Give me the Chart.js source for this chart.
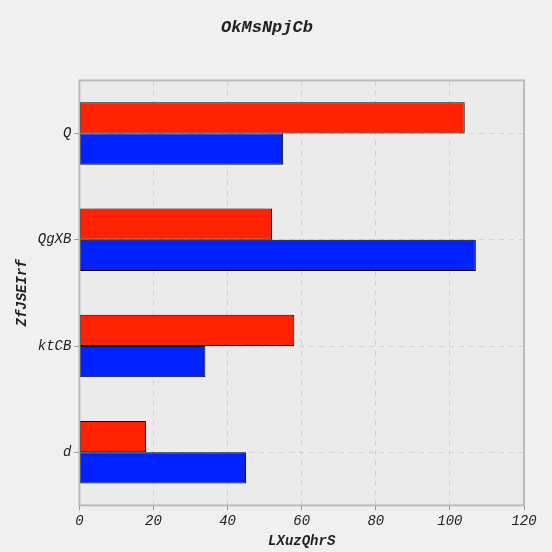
<!DOCTYPE html>
<html>
<head>
<script src="https://cdn.jsdelivr.net/npm/chart.js@4"></script>
<style>
  html, body { margin: 0; padding: 0; background: #f0f0f0; }
  #wrap { width: 552px; height: 552px; }
</style>
</head>
<body>
<div id="wrap"><canvas id="chart"></canvas></div>
<script>
const categories = ['Q', 'QgXB', 'ktCB', 'd'];
const redValues = [104, 52, 58, 18];
const blueValues = [55, 107, 34, 45];
const xTicks = [0, 20, 40, 60, 80, 100, 120];

const fontFamily = "'Liberation Mono', 'DejaVu Sans Mono', monospace";

// plot background + frame
const plotBg = {
  id: 'plotBg',
  beforeDraw(chart) {
    const { ctx, chartArea: a } = chart;
    ctx.save();
    ctx.fillStyle = '#ebebeb';
    ctx.fillRect(a.left, a.top, a.width, a.height);
    ctx.restore();
  },
  afterDraw(chart) {
    const { ctx, chartArea: a } = chart;
    ctx.save();
    ctx.strokeStyle = '#bbbbbb';
    ctx.lineWidth = 2;
    ctx.strokeRect(a.left, a.top, a.width, a.height);
    ctx.restore();
  }
};

new Chart(document.getElementById('chart'), {
  type: 'bar',
  data: {
    labels: categories,
    datasets: [
      { data: redValues, backgroundColor: '#ff2200', borderColor: '#000', borderWidth: 1, borderSkipped: false },
      { data: blueValues, backgroundColor: '#0022ff', borderColor: '#000', borderWidth: 1, borderSkipped: false },
    ],
  },
  options: {
    indexAxis: 'y',
    animation: false,
    responsive: true,
    maintainAspectRatio: false,
    categoryPercentage: 0.59,
    barPercentage: 1,
    layout: { padding: { top: 4, right: 28, bottom: 0, left: 10 } },
    scales: {
      x: {
        min: 0,
        max: 120,
        afterBuildTicks: (axis) => { axis.ticks = xTicks.map(v => ({ value: v })); },
        border: { display: false },
        grid: { color: '#d0d0d0', lineWidth: 1, tickLength: 5, tickColor: '#999' },
        ticks: { color: '#222', padding: 2, font: { family: fontFamily, style: 'italic', size: 14 } },
        title: { display: true, text: 'LXuzQhrS', color: '#222', padding: 2, font: { family: fontFamily, style: 'italic', weight: 'bold', size: 14 } },
      },
      y: {
        offset: true,
        border: { display: false },
        grid: { color: '#d0d0d0', tickLength: 5, tickColor: '#999', offset: false },
        ticks: { color: '#222', font: { family: fontFamily, style: 'italic', size: 14 } },
        title: { display: true, text: 'ZfJSEIrf', color: '#222', font: { family: fontFamily, style: 'italic', weight: 'bold', size: 14 } },
      },
    },
    plugins: {
      legend: { display: false },
      tooltip: { enabled: false },
      title: {
        display: true,
        text: 'OkMsNpjCb',
        color: '#222',
        padding: { top: 14, bottom: 42 },
        font: { family: fontFamily, style: 'italic', weight: 'bold', size: 17 },
      },
    },
  },
  plugins: [plotBg],
});

// dashed grid lines
const c = Chart.getChart('chart');
c.options.scales.x.border.dash = [5, 5];
c.options.scales.y.border.dash = [5, 5];
c.options.scales.x.grid.borderDash = [5, 5];
c.options.scales.y.grid.borderDash = [5, 5];
c.options.scales.x.border.display = false;
c.update('none');
</script>
</body>
</html>
